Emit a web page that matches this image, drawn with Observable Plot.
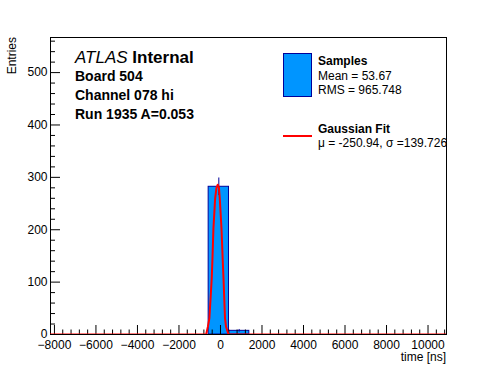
<!DOCTYPE html>
<html>
<head>
<meta charset="utf-8">
<script src="https://cdn.jsdelivr.net/npm/d3@7"></script>
<script src="https://cdn.jsdelivr.net/npm/@observablehq/plot@0.6"></script>
<style>
  html, body { margin: 0; padding: 0; background: #fff; }
  svg text { font-family: "Liberation Sans", Arial, Helvetica, sans-serif; }
</style>
</head>
<body>
<div id="chart"></div>
<script>
// ---- data ----
const xDomain = [-8190, 10890];
const yDomain = [0, 567];
const binLo = [-570, 410];
const binHi = [410, 1390];
const counts = [282, 7];
const errors = [16.8, 2.6];
const fitX = [-8190, -690, -607, -534, -422, -388, -340, -257, -194, -131, -73, -34, 49, 107, 146, 218, 267, 388, 10890];
const fitY = [0, 0, 15, 31, 107, 143, 202, 260, 280, 286, 280, 260, 202, 143, 107, 31, 15, 0, 0];
const xMajor = [-8000, -6000, -4000, -2000, 0, 2000, 4000, 6000, 8000, 10000];
const yMajor = [0, 100, 200, 300, 400, 500];
const xMinor = d3.range(-8000, 10900, 400).filter(v => v % 2000 !== 0);
const yMinor = d3.range(0, 567, 20).filter(v => v % 100 !== 0);
const infoLines = ["Board 504", "Channel 078 hi", "Run 1935 A=0.053"];
const legendSamples = ["Samples", "Mean = 53.67", "RMS = 965.748"];
const legendFit = ["Gaussian Fit", "\u03bc = -250.94, \u03c3 =139.726"];

const bins = binLo.map((lo, i) => ({x1: lo, x2: binHi[i], n: counts[i], e: errors[i]}));
const fit = fitX.map((x, i) => ({x, y: fitY[i]}));

const W = 496, H = 372, mL = 50, mR = 50, mT = 37, mB = 38;
const PW = W - mL - mR, PH = H - mT - mB;
const FONT = '"Liberation Sans", Arial, Helvetica, sans-serif';
const fmt = d => d < 0 ? "\u2212" + (-d) : String(d);

const chart = Plot.plot({
  width: W, height: H,
  marginLeft: mL, marginRight: mR, marginTop: mT, marginBottom: mB,
  style: {fontFamily: FONT, fontSize: "12px", background: "#fff", color: "#000"},
  x: {domain: xDomain},
  y: {domain: yDomain},
  marks: [
    Plot.rect(bins, {x1: "x1", x2: "x2", y1: 0, y2: "n", fill: "#0095ff", stroke: "#000099", strokeWidth: 1}),
    Plot.ruleX(bins, {x: d => (d.x1 + d.x2) / 2, y1: d => d.n - d.e, y2: d => d.n + d.e, stroke: "#000099", strokeWidth: 1}),
    Plot.frame({stroke: "#000", strokeWidth: 1}),
    Plot.tickX(xMajor, {x: d => d, insetTop: PH - 9, stroke: "#000"}),
    Plot.tickX(xMinor, {x: d => d, insetTop: PH - 4.5, stroke: "#000"}),
    Plot.tickY(yMajor, {y: d => d, insetRight: PW - 10, stroke: "#000"}),
    Plot.tickY(yMinor, {y: d => d, insetRight: PW - 5, stroke: "#000"}),
    Plot.line(fit, {x: "x", y: "y", stroke: "#ff0000", strokeWidth: 2, clip: true}),
    Plot.axisX(xMajor, {tickSize: 0, tickPadding: 6, tickFormat: fmt, label: null, fontSize: 12}),
    Plot.axisY(yMajor, {tickSize: 0, tickPadding: 3, tickFormat: d => String(d), label: null, fontSize: 12})
  ]
});
document.getElementById("chart").appendChild(chart);

const svg = d3.select(chart);
const g = svg.append("g").attr("font-family", FONT).attr("fill", "#000").attr("text-anchor", "start");

// axis titles
g.append("text").attr("transform", `translate(16,${mT}) rotate(-90)`)
  .attr("text-anchor", "end").attr("font-size", 12).text("Entries");
g.append("text").attr("x", W - mR).attr("y", 361)
  .attr("text-anchor", "end").attr("font-size", 12).text("time [ns]");

// ATLAS label
const t0 = g.append("text").attr("x", 75).attr("y", 63).attr("font-size", 17).attr("text-anchor", "start");
t0.append("tspan").attr("font-style", "italic").text("ATLAS");
t0.append("tspan").attr("font-weight", "bold").text(" Internal");
infoLines.forEach((s, i) => {
  g.append("text").attr("x", 75).attr("y", 81 + i * 19).attr("text-anchor", "start")
    .attr("font-size", 14).attr("font-weight", "bold").text(s);
});

// legend
g.append("rect").attr("x", 283.5).attr("y", 53.5).attr("width", 28).attr("height", 43)
  .attr("fill", "#0095ff").attr("stroke", "#000099");
g.append("line").attr("x1", 283).attr("x2", 312).attr("y1", 136).attr("y2", 136)
  .attr("stroke", "#ff0000").attr("stroke-width", 2);
[65, 80, 94].forEach((y, i) => {
  g.append("text").attr("x", 318).attr("y", y).attr("font-size", 12).attr("text-anchor", "start")
    .attr("font-weight", i === 0 ? "bold" : "normal").text(legendSamples[i]);
});
[133, 147].forEach((y, i) => {
  g.append("text").attr("x", 318).attr("y", y).attr("font-size", 12).attr("text-anchor", "start")
    .attr("font-weight", i === 0 ? "bold" : "normal").text(legendFit[i]);
});
</script>
</body>
</html>
